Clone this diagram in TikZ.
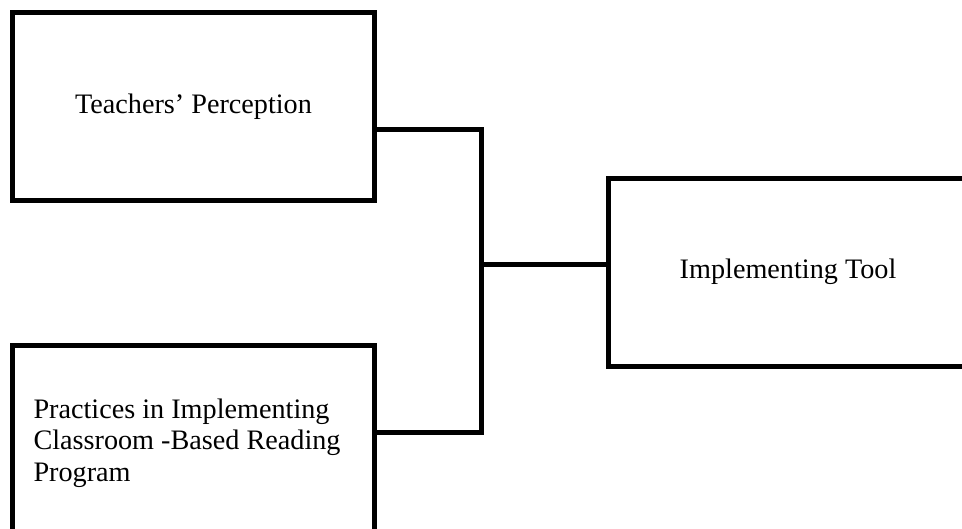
\documentclass[tikz,border=0pt]{standalone}
\usepackage{fontspec}
\setmainfont{Liberation Serif}

\begin{document}
\begin{tikzpicture}[x=0.5pt,y=-0.5pt,
		box/.style={draw=black, line width=2.5pt, inner sep=0pt, font=\fontsize{14.1}{15.75}\selectfont},
		link/.style={draw=black, line width=2.5pt}]
		\useasboundingbox (0,0) rectangle (962,529);
		\clip (0,0) rectangle (962,529);
		
		\node[box, minimum width=181pt, minimum height=93.75pt] (percep) at (193.5,106.75) {Teachers’ Perception};
		\node[box, minimum width=181pt, minimum height=97.5pt, text width=160pt, align=flush left] (practice) at (193.5,443) {Practices in Implementing\\Classroom -Based Reading\\Program};
		\node[box, minimum width=180pt, minimum height=93.75pt] (tool) at (788,272.25) {Implementing Tool};
		
		%\draw[black] (481.5,0)--(481.5,529);
		\coordinate (jtop) at (481.5,130);
		\coordinate (jbot) at (481.5,432);
		\coordinate (jmid) at (481.5,264.5);
		
		\draw[link] (percep.east |- jtop) -- (jtop) -- (jbot) -- (practice.east |- jbot);
		\draw[link] (jmid) -- (tool.west |- jmid);
	\end{tikzpicture}
\end{document}
